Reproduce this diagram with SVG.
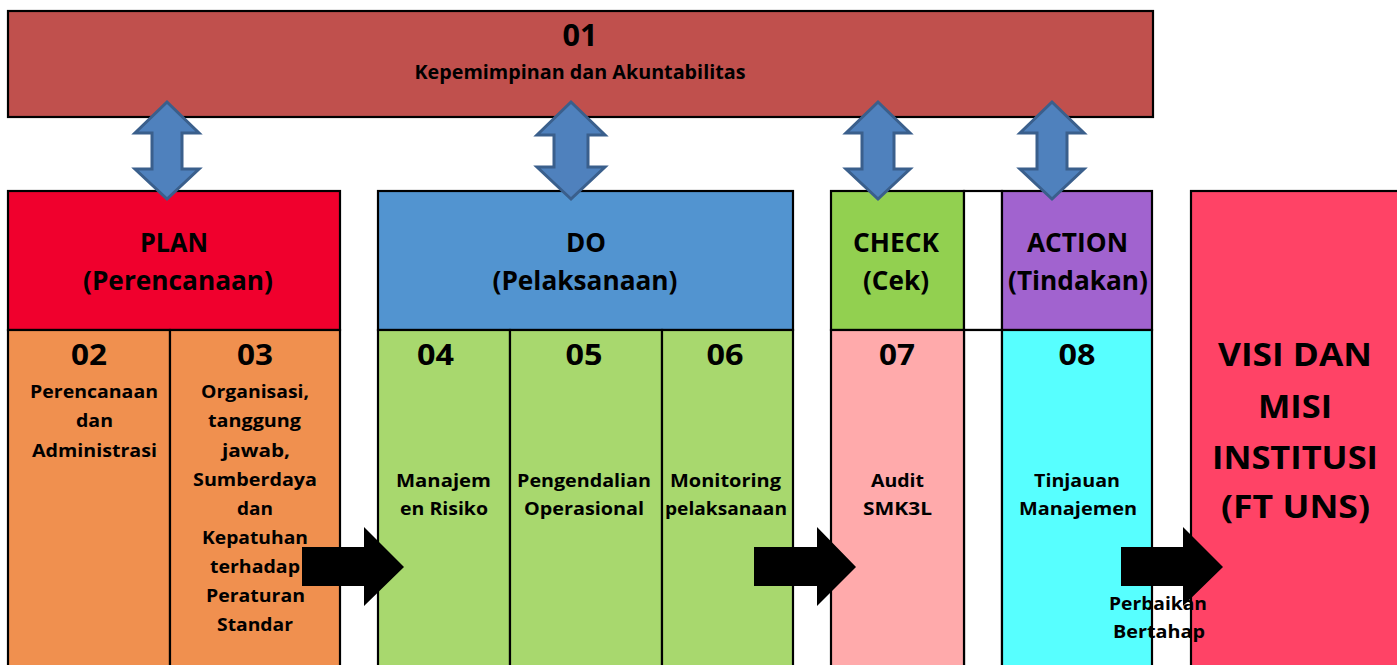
<svg xmlns="http://www.w3.org/2000/svg" width="1397" height="665" viewBox="0 0 1397 665">
<style>
  text { font-family: "Open Sans", "Liberation Sans", sans-serif; font-weight: 700; fill: #000; text-anchor: middle; }
  .box { stroke: #000; stroke-width: 2.2; }
  .hd { font-size: 27px; }
  .num { font-size: 29px; }
  .body { font-size: 18.5px; }
  .visi { font-size: 33px; }
  .dbl { fill: #4F81BD; stroke: #3A5F8C; stroke-width: 3; stroke-linejoin: miter; }
  .blk { fill: #000; }
</style>
<rect width="1397" height="665" fill="#fff"/>

<g id="n01">
  <rect class="box" x="8" y="11" width="1145" height="106" fill="#C0504D"/>
  <text x="580" y="46" style="font-size:30px" textLength="35" lengthAdjust="spacingAndGlyphs">01</text>
  <text x="580" y="79" style="font-size:19px" textLength="331" lengthAdjust="spacingAndGlyphs">Kepemimpinan dan Akuntabilitas</text>
</g>

<g id="plan">
  <rect class="box" x="8" y="191" width="332" height="139" fill="#F0002D"/>
  <text class="hd" x="174" y="252" textLength="68" lengthAdjust="spacingAndGlyphs">PLAN</text>
  <text class="hd" x="178" y="290" textLength="190" lengthAdjust="spacingAndGlyphs">(Perencanaan)</text>
</g>
<g id="n02">
  <rect class="box" x="8" y="330" width="162" height="350" fill="#F0904F"/>
  <text class="num" x="89" y="365" textLength="36" lengthAdjust="spacingAndGlyphs">02</text>
  <text class="body" x="94" y="398" textLength="128" lengthAdjust="spacingAndGlyphs">Perencanaan</text>
  <text class="body" x="94.5" y="427" textLength="37" lengthAdjust="spacingAndGlyphs">dan</text>
  <text class="body" x="94.5" y="457" textLength="125" lengthAdjust="spacingAndGlyphs">Administrasi</text>
</g>
<g id="n03">
  <rect class="box" x="170" y="330" width="170" height="350" fill="#F0904F"/>
  <text class="num" x="255" y="365" textLength="36" lengthAdjust="spacingAndGlyphs">03</text>
  <text class="body" x="255" y="398" textLength="108" lengthAdjust="spacingAndGlyphs">Organisasi,</text>
  <text class="body" x="254.5" y="427" textLength="93" lengthAdjust="spacingAndGlyphs">tanggung</text>
  <text class="body" x="256" y="457" textLength="68" lengthAdjust="spacingAndGlyphs">jawab,</text>
  <text class="body" x="255" y="486" textLength="124" lengthAdjust="spacingAndGlyphs">Sumberdaya</text>
  <text class="body" x="255" y="515" textLength="36" lengthAdjust="spacingAndGlyphs">dan</text>
  <text class="body" x="255" y="544" textLength="106" lengthAdjust="spacingAndGlyphs">Kepatuhan</text>
  <text class="body" x="255" y="573" textLength="90" lengthAdjust="spacingAndGlyphs">terhadap</text>
  <text class="body" x="255.5" y="602" textLength="99" lengthAdjust="spacingAndGlyphs">Peraturan</text>
  <text class="body" x="255" y="631" textLength="76" lengthAdjust="spacingAndGlyphs">Standar</text>
</g>

<g id="do">
  <rect class="box" x="378" y="191" width="415" height="139" fill="#5294D0"/>
  <text class="hd" x="586" y="252" textLength="40" lengthAdjust="spacingAndGlyphs">DO</text>
  <text class="hd" x="585" y="290" textLength="185" lengthAdjust="spacingAndGlyphs">(Pelaksanaan)</text>
</g>
<g id="n04">
  <rect class="box" x="378" y="330" width="132" height="350" fill="#A8D86E"/>
  <text class="num" x="435.5" y="365" textLength="37" lengthAdjust="spacingAndGlyphs">04</text>
  <text class="body" x="443.5" y="487" textLength="95" lengthAdjust="spacingAndGlyphs">Manajem</text>
  <text class="body" x="444" y="515" textLength="88" lengthAdjust="spacingAndGlyphs">en Risiko</text>
</g>
<g id="n05">
  <rect class="box" x="510" y="330" width="152" height="350" fill="#A8D86E"/>
  <text class="num" x="584" y="365" textLength="37" lengthAdjust="spacingAndGlyphs">05</text>
  <text class="body" x="584" y="487" textLength="134" lengthAdjust="spacingAndGlyphs">Pengendalian</text>
  <text class="body" x="584" y="515" textLength="120" lengthAdjust="spacingAndGlyphs">Operasional</text>
</g>
<g id="n06">
  <rect class="box" x="662" y="330" width="131" height="350" fill="#A8D86E"/>
  <text class="num" x="725" y="365" textLength="37" lengthAdjust="spacingAndGlyphs">06</text>
  <text class="body" x="725.5" y="487" textLength="111" lengthAdjust="spacingAndGlyphs">Monitoring</text>
  <text class="body" x="726" y="515" textLength="122" lengthAdjust="spacingAndGlyphs">pelaksanaan</text>
</g>

<g id="check">
  <rect class="box" x="831" y="191" width="133" height="139" fill="#92D050"/>
  <text class="hd" x="896" y="252" textLength="86" lengthAdjust="spacingAndGlyphs">CHECK</text>
  <text class="hd" x="896" y="290" textLength="66" lengthAdjust="spacingAndGlyphs">(Cek)</text>
</g>
<g id="gap">
  <rect class="box" x="964" y="191" width="38" height="139" fill="#fff"/>
  <rect class="box" x="964" y="330" width="38" height="350" fill="#fff"/>
</g>
<g id="n07">
  <rect class="box" x="831" y="330" width="133" height="350" fill="#FFAAAB"/>
  <text class="num" x="897" y="365" textLength="36" lengthAdjust="spacingAndGlyphs">07</text>
  <text class="body" x="897.5" y="487" textLength="53" lengthAdjust="spacingAndGlyphs">Audit</text>
  <text class="body" x="897.5" y="515" textLength="69" lengthAdjust="spacingAndGlyphs">SMK3L</text>
</g>

<g id="action">
  <rect class="box" x="1002" y="191" width="150" height="139" fill="#A163CF"/>
  <text class="hd" x="1077.5" y="252" textLength="101" lengthAdjust="spacingAndGlyphs">ACTION</text>
  <text class="hd" x="1078" y="290" textLength="140" lengthAdjust="spacingAndGlyphs">(Tindakan)</text>
</g>
<g id="n08">
  <rect class="box" x="1002" y="330" width="150" height="350" fill="#57FFFF"/>
  <text class="num" x="1077" y="365" textLength="37" lengthAdjust="spacingAndGlyphs">08</text>
  <text class="body" x="1077" y="487" textLength="86" lengthAdjust="spacingAndGlyphs">Tinjauan</text>
  <text class="body" x="1078" y="515" textLength="118" lengthAdjust="spacingAndGlyphs">Manajemen</text>
</g>

<g id="visi">
  <rect class="box" x="1191" y="191" width="220" height="490" fill="#FF4366"/>
  <text class="visi" x="1295" y="366" textLength="154" lengthAdjust="spacingAndGlyphs">VISI DAN</text>
  <text class="visi" x="1295" y="418" textLength="74" lengthAdjust="spacingAndGlyphs">MISI</text>
  <text class="visi" x="1295" y="469" textLength="166" lengthAdjust="spacingAndGlyphs">INSTITUSI</text>
  <text class="visi" x="1295.5" y="518" textLength="149" lengthAdjust="spacingAndGlyphs">(FT UNS)</text>
</g>

<g id="connectors">
  <polygon class="dbl" points="167,102 199,133 182,133 182,169 199,169 167,199 135,169 152,169 152,133 135,133"/>
  <polygon class="dbl" points="571,102 605,135 588,135 588,167 605,167 571,199 537,167 554,167 554,135 537,135"/>
  <polygon class="dbl" points="878,102 910,133 894,133 894,169 910,169 878,199 846,169 862,169 862,133 846,133"/>
  <polygon class="dbl" points="1052,102 1084,133 1067,133 1067,169 1084,169 1052,199 1020,169 1037,169 1037,133 1020,133"/>
  <polygon class="blk" points="302,547 364,547 364,527 404,567 364,606 364,586 302,586"/>
  <polygon class="blk" points="754,547 817,547 817,527 856,567 817,606 817,586 754,586"/>
  <polygon class="blk" points="1121,547 1183,547 1183,527 1223,567 1183,606 1183,586 1121,586"/>
  <text x="1158" y="610" style="font-size:18.5px" textLength="98" lengthAdjust="spacingAndGlyphs">Perbaikan</text>
  <text x="1159" y="638" style="font-size:18.5px" textLength="92" lengthAdjust="spacingAndGlyphs">Bertahap</text>
</g>
</svg>
